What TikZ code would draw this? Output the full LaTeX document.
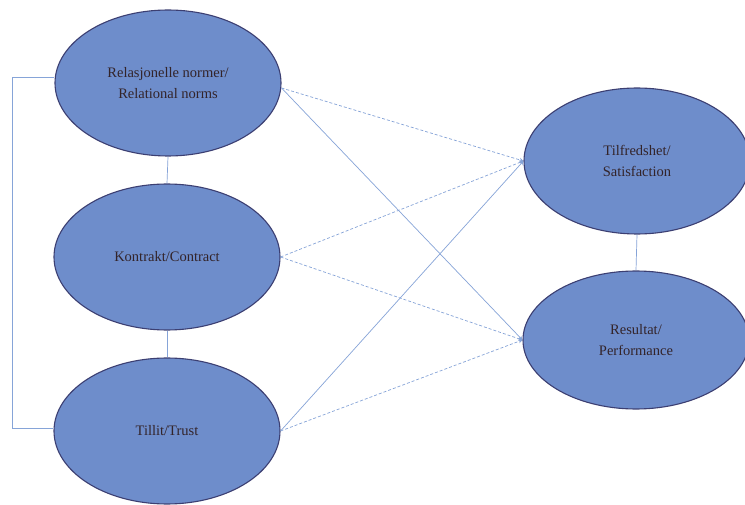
\documentclass[tikz,border=0pt]{standalone}
\usepackage{fontspec}
\setmainfont{Liberation Serif}
\usetikzlibrary{arrows.meta,shapes.geometric}
\definecolor{ovalfill}{HTML}{6E8DCB}
\definecolor{ovalline}{HTML}{3C3F72}
\definecolor{linkblue}{HTML}{86A4D8}
\definecolor{labeltext}{HTML}{33242A}
\tikzset{
  construct/.style={ellipse, draw=ovalline, line width=1.1pt, fill=ovalfill,
    minimum width=226pt, minimum height=146pt, inner sep=0pt,
    align=center, text=labeltext, font=\fontsize{14.5}{21}\selectfont},
  link/.style={draw=linkblue, line width=0.7pt},
  dashlink/.style={link, dash pattern=on 3pt off 2pt},
  tip/.style={-{Stealth[length=4pt,width=4pt]}}
}
\begin{document}
\begin{tikzpicture}[x=1pt,y=-1pt]
\useasboundingbox (0,0) rectangle (745,505);
\fill[white] (0,0) rectangle (745,505);

% left-hand constructs
\node[construct] (rel) at (168,83) {Relasjonelle normer/\\Relational norms};
\node[construct] (kon) at (167,257) {Kontrakt/Contract};
\node[construct] (til) at (167,431) {Tillit/Trust};

% right-hand outcomes
\node[construct] (sat) at (637,161) {Tilfredshet/\\Satisfaction};
\node[construct, minimum height=138pt] (res) at (636,340) {Resultat/\\Performance};

% correlations among the left constructs
\draw[link] (rel.south) -- (kon.north);
\draw[link] (kon.south) -- (til.north);
\coordinate (bt) at (12,77);
\coordinate (bb) at (12,428);
\draw[link] (rel.west |- bt) -- (bt) -- (bb) -- (til.west |- bb);

% correlation between outcomes
\draw[link] (sat.south) -- (res.north);

% paths from constructs to outcomes
\draw[dashlink, tip] (rel.east |- 0,88) -- (sat.west);
\draw[link, tip] (rel.east |- 0,88) -- (res.west);
\draw[dashlink, tip] (kon.east) -- (sat.west);
\draw[dashlink, tip] (kon.east) -- (res.west);
\draw[link, tip] (til.east) -- (sat.west);
\draw[dashlink, tip] (til.east) -- (res.west);
\end{tikzpicture}
\end{document}
